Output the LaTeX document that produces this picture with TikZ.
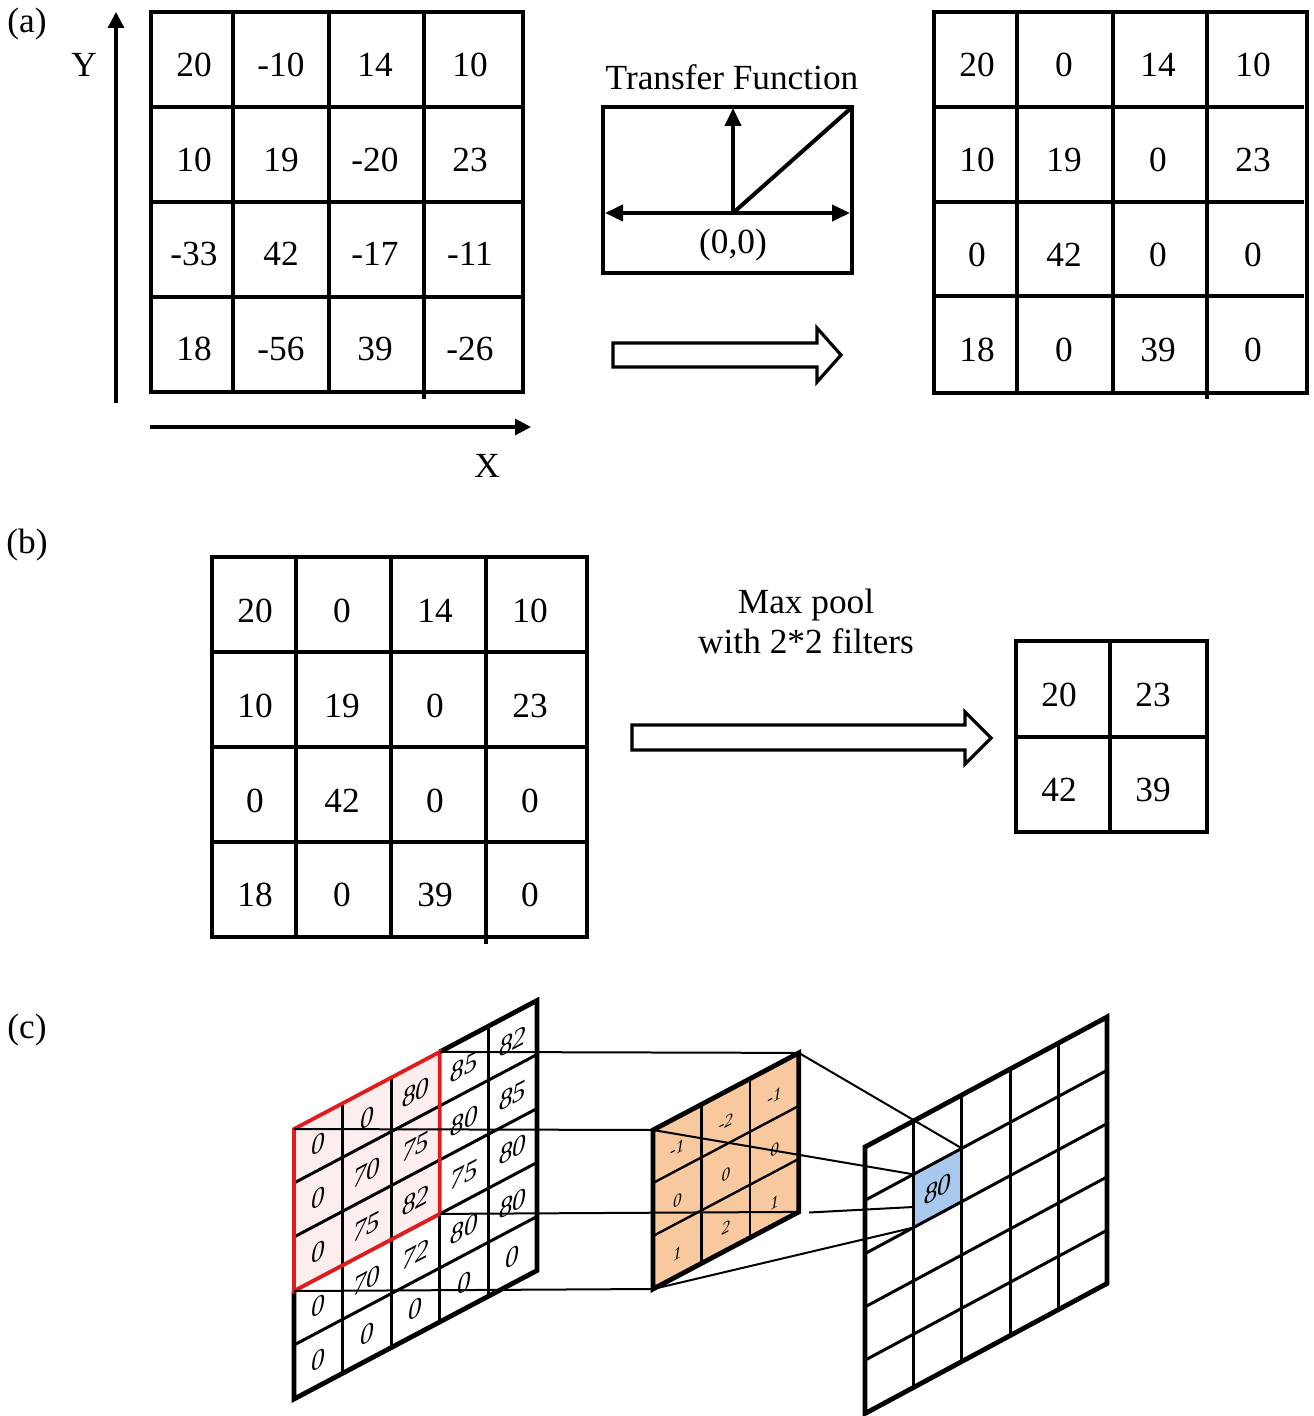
\documentclass[tikz,border=0pt]{standalone}
\usepackage{fontspec}
\setmainfont{Liberation Serif}
\usetikzlibrary{arrows.meta}
\definecolor{redbox}{RGB}{226,28,28}
\definecolor{pinkfill}{RGB}{252,238,236}
\definecolor{kernfill}{RGB}{248,200,158}
\definecolor{bluefill}{RGB}{168,200,238}
\begin{document}
\begin{tikzpicture}[x=0.5pt,y=-0.5pt,
  txt/.style={font=\fontsize{17.65}{21}\selectfont, inner sep=0pt},
  gl/.style={line width=2pt, line cap=rect},
  axisarrow/.style={line width=1.6pt, -{Triangle[length=8pt,width=8pt]}},
  tfarrow/.style={line width=2pt},
  fat/.style={line width=1.6pt, line join=miter, fill=white},
  cnum/.style={font=\fontsize{13.5}{15}\selectfont\itshape, inner sep=0pt, yslant=0.53},
  knum/.style={font=\fontsize{8.5}{10}\selectfont\itshape, inner sep=0pt, yslant=0.53},
  outer/.style={line width=2.4pt, line join=miter},
  inner/.style={line width=1.5pt},
  conn/.style={line width=1pt}]
\useasboundingbox (0,0) rectangle (1313,1416);

% ---------------- labels
\node[txt] (la) at (27,24) {(a)};
\node[txt] (lb) at (27,545) {(b)};
\node[txt] (lc) at (27,1030) {(c)};

% ---------------- (a) axes
\coordinate (yb) at (116,403); \coordinate (yt) at (116,12);
\coordinate (xl) at (150,427); \coordinate (xr) at (531,427);
\draw[axisarrow] (yb) -- (yt);
\draw[axisarrow] (xl) -- (xr);
\node[txt] (ylab) at (84,65) {Y};
\node[txt] (xlab) at (487,466) {X};

% ---------------- (a) left grid
\draw[gl] (151,12) rectangle (523,392);
\draw[gl] (233,12) -- (233,392) (329,12) -- (329,392) (424,12) -- (424,397);
\draw[gl] (151,107) -- (519,107) (151,202) -- (519,202) (151,297) -- (519,297);
\foreach \row [count=\r from 0] in {{20,-10,14,10},{10,19,-20,23},{-33,42,-17,-11},{18,-56,39,-26}}{
  \foreach \v [count=\c from 0] in \row {
    \pgfmathsetmacro\xx{{194,281,375,470}[\c]}
    \pgfmathsetmacro\yy{{65,160,254,349}[\r]}
    \node[txt] (aL\r\c) at (\xx,\yy) {\v};
  }
}

% ---------------- transfer function
\node[txt] (tft) at (732,77) {Transfer Function};
\draw[line width=2pt] (603,107) rectangle (852,273);
\coordinate (tfo) at (733,213);
\coordinate (tfl) at (605,213); \coordinate (tfr) at (850,213);
\coordinate (tfu) at (733,108); \coordinate (tfd) at (850,109);
\draw[tfarrow, {Triangle[length=9pt,width=8pt]}-{Triangle[length=9pt,width=8pt]}] (tfl) -- (tfr);
\draw[tfarrow, -{Triangle[length=9pt,width=8pt]}] (tfo) -- (tfu);
\draw[tfarrow] (tfo) -- (tfd);
\node[txt] (tfz) at (733,245) {(0,0)};

% fat arrow (a)
\draw[fat] (613,343) -- (817,343) -- (817,328) -- (841,355) -- (817,382) -- (817,367) -- (613,367) -- cycle;

% ---------------- (a) right grid
\draw[gl] (934,12) rectangle (1307,393);
\draw[gl] (1017,12) -- (1017,393) (1113,12) -- (1113,393) (1207,12) -- (1207,397);
\draw[gl] (934,107) -- (1302,107) (934,202) -- (1302,202) (934,296) -- (1302,296);
\foreach \row [count=\r from 0] in {{20,0,14,10},{10,19,0,23},{0,42,0,0},{18,0,39,0}}{
  \foreach \v [count=\c from 0] in \row {
    \pgfmathsetmacro\xx{{977,1064,1158,1253}[\c]}
    \pgfmathsetmacro\yy{{65,160,255,350}[\r]}
    \node[txt] (aR\r\c) at (\xx,\yy) {\v};
  }
}

% ---------------- (b) big grid
\draw[gl] (212,557) rectangle (587,937);
\draw[gl] (296,557) -- (296,937) (391,557) -- (391,937) (486,557) -- (486,942);
\draw[gl] (212,652) -- (587,652) (212,747) -- (587,747) (212,842) -- (587,842);
\foreach \row [count=\r from 0] in {{20,0,14,10},{10,19,0,23},{0,42,0,0},{18,0,39,0}}{
  \foreach \v [count=\c from 0] in \row {
    \pgfmathsetmacro\xx{{255,342,435,530}[\c]}
    \pgfmathsetmacro\yy{{611,706,801,895}[\r]}
    \node[txt] (bL\r\c) at (\xx,\yy) {\v};
  }
}
\node[txt, align=center] (mp) at (806,621) {Max pool\\[-1pt]with 2*2 filters};
\draw[fat] (632,725) -- (965,725) -- (965,712) -- (991,738) -- (965,764) -- (965,750) -- (632,750) -- cycle;

% ---------------- (b) small grid
\draw[gl] (1016,641) rectangle (1207,832);
\draw[gl] (1110,641) -- (1110,832) (1016,737) -- (1207,737);
\node[txt] (s00) at (1059,695) {20};
\node[txt] (s01) at (1153,695) {23};
\node[txt] (s10) at (1059,790) {42};
\node[txt] (s11) at (1153,790) {39};

% ---------------- (c) left grid (input)
\coordinate (redTL) at (294,1129);
\coordinate (redTR) at (439.8,1051.9);
\coordinate (redBR) at (439.8,1213.9);
\coordinate (redBL) at (294,1291);
\fill[pinkfill] (redTL) -- (redTR) -- (redBR) -- (redBL) -- cycle;
\foreach \i in {1,...,4}
  \draw[inner] ({294+48.6*\i},{1129-25.7*\i}) -- ({294+48.6*\i},{1399-25.7*\i});
\foreach \j in {1,...,4}
  \draw[inner] (294,{1129+54*\j}) -- (537,{1000.5+54*\j});
\draw[outer] (redTR) -- (537,1000.5) -- (537,1270.5) -- (294,1399) -- (redBL);
\draw[redbox, line width=1.9pt, line join=miter] (redTL) -- (redTR) -- (redBR) -- (redBL) -- cycle;
\foreach \row [count=\r from 0] in {{0,0,80,85,82},{0,70,75,80,85},{0,75,82,75,80},{0,70,72,80,80},{0,0,0,0,0}}{
  \foreach \v [count=\c from 0] in \row {
    \node[cnum] (cL\r\c) at ({294+48.6*(\c+0.5)},{1129-25.7*(\c+0.5)+54*(\r+0.5)+1}) {\v};
  }
}

% ---------------- (c) kernel
\coordinate (kTL) at (653,1130);
\coordinate (kTR) at (798.8,1052.9);
\coordinate (kBR) at (798.8,1211.9);
\coordinate (kBL) at (653,1289);
\fill[kernfill] (kTL) -- (kTR) -- (kBR) -- (kBL) -- cycle;
\foreach \i in {1,2}
  \draw[line width=1.2pt] ({653+48.6*\i},{1130-25.7*\i}) -- ({653+48.6*\i},{1289-25.7*\i});
\foreach \j in {1,2}
  \draw[line width=1.2pt] (653,{1130+53*\j}) -- (798.8,{1052.9+53*\j});
\draw[outer] (kTL) -- (kTR) -- (kBR) -- (kBL) -- cycle;
\foreach \row [count=\r from 0] in {{-1,-2,-1},{0,0,0},{1,2,1}}{
  \foreach \v [count=\c from 0] in \row {
    \node[knum] (cK\r\c) at ({653+48.6*(\c+0.5)},{1130-25.7*(\c+0.5)+53*(\r+0.5)+4}) {\v};
  }
}

% ---------------- (c) output grid
\coordinate (bTL) at (913.4,1174.3);
\coordinate (bTR) at (961.8,1148.3);
\coordinate (bBR) at (961.8,1201.6);
\coordinate (bBL) at (913.4,1227.6);
\coordinate (bML) at (913.4,1207);
\fill[bluefill] (bTL) -- (bTR) -- (bBR) -- (bBL) -- cycle;
\foreach \i in {1,...,4}
  \draw[inner] ({865+48.4*\i},{1147-26*\i}) -- ({865+48.4*\i},{1413.5-26*\i});
\foreach \j in {1,...,4}
  \draw[inner] (865,{1147+53.3*\j}) -- (1107,{1017+53.3*\j});
\draw[outer] (865,1147) -- (1107,1017) -- (1107,1283.5) -- (865,1413.5) -- cycle;
\node[cnum] (out80) at (937.6,1189) {80};

% ---------------- (c) connectors
\coordinate (kBRs) at (809,1212.5);
\draw[conn] (redTR) -- (kTR);
\draw[conn] (redTL) -- (kTL);
\draw[conn] (redBR) -- (kBR);
\draw[conn] (redBL) -- (kBL);
\draw[conn] (kTR) -- (bTR);
\draw[conn] (kTL) -- (bTL);
\draw[conn] (kBRs) -- (bML);
\draw[conn] (kBL) -- (bBL);
\end{tikzpicture}
\end{document}
